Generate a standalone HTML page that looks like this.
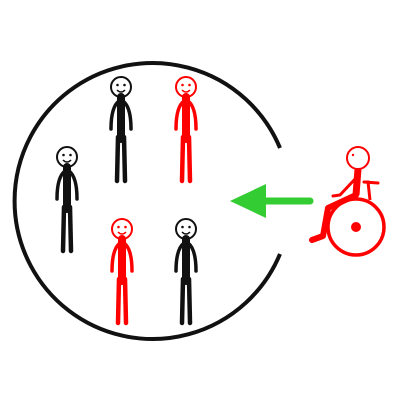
<!DOCTYPE html>
<html><head><style>html,body{margin:0;padding:0;background:#fff}</style></head>
<body>
<svg width="400" height="400" viewBox="0 0 400 400">
<defs>
<g id="fig">
<circle cx="0" cy="0" r="10" fill="#fff" stroke-width="2"/>
<circle cx="-3.5" cy="-2" r="1.3" stroke="none"/>
<circle cx="3.5" cy="-2" r="1.3" stroke="none"/>
<path d="M-4 3 Q0 7 4 3" fill="none" stroke-width="1.5"/>
<path d="M0 10 L0 52" stroke-width="8" stroke-linecap="round"/>
<path d="M-2 14 Q-10 20 -10 42 M2 14 Q10 20 10 42" fill="none" stroke-width="3.5" stroke-linecap="round"/>
<path d="M-3 50 L-4 94 M3 50 L4 94" fill="none" stroke-width="4.5" stroke-linecap="round"/>
</g>
</defs>
<path d="M280 148 A138 138 0 1 0 280 254" fill="none" stroke="#111" stroke-width="4"/>
<g fill="#111" stroke="#111" transform="translate(121,87)"><use href="#fig"/></g>
<g fill="#f00" stroke="#f00" transform="translate(186,87)"><use href="#fig"/></g>
<g fill="#111" stroke="#111" transform="translate(67,157)"><use href="#fig"/></g>
<g fill="#f00" stroke="#f00" transform="translate(122,229)"><use href="#fig"/></g>
<g fill="#111" stroke="#111" transform="translate(186,229)"><use href="#fig"/></g>
<g>
<path d="M264 201 L310 201" stroke="#33cc33" stroke-width="7" stroke-linecap="round"/>
<polygon points="230,201 266,184 266,218" fill="#33cc33"/>
</g>
<g stroke="#f00" fill="none">
<circle cx="358" cy="158" r="11" stroke-width="2" fill="#fff"/>
<circle cx="353" cy="155" r="1.2" fill="#f00" stroke="none"/>
<path d="M358 169 L356 195" stroke-width="7"/>
<path d="M356 178 L340 195 L333 196" stroke-width="3" stroke-linecap="round"/>
<path d="M356 195 L328 208 L323 236 L312 240" stroke-width="6" stroke-linejoin="round" stroke-linecap="round"/>
<path d="M364 182 L368 182 L370 200" stroke-width="3"/>
<path d="M364 182 L378 183" stroke-width="3" stroke-linecap="round"/>
<circle cx="356" cy="227" r="28" stroke-width="3.5"/>
<circle cx="356" cy="227" r="5" fill="#f00" stroke="none"/>
</g>
</svg>
</body></html>
